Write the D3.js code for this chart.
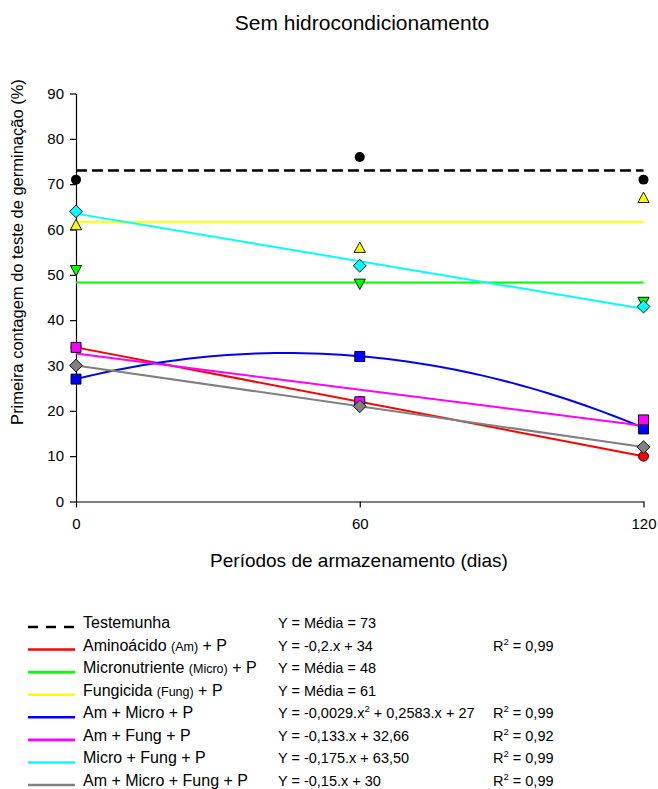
<!DOCTYPE html>
<html><head><meta charset="utf-8">
<script src="https://cdn.jsdelivr.net/npm/d3@7/dist/d3.min.js"></script>
<style>body{margin:0;background:#fff}svg{font-family:"Liberation Sans",Arial,sans-serif}</style>
</head><body><svg id="c" width="658" height="789"></svg>
<script>
const periods = [0, 60, 120];
const xTicks = [0, 60, 120];
const yTicks = [0, 10, 20, 30, 40, 50, 60, 70, 80, 90];

const seriesNames = ["Testemunha", "Aminoácido", "Micronutriente", "Fungicida", "Am + Micro + P", "Am + Fung + P", "Micro + Fung + P", "Am + Micro + Fung + P"];
const seriesColors = ["#000000", "#ff0000", "#00ff00", "#ffff00", "#0000ff", "#ff00ff", "#00ffff", "#808080"];
const seriesSymbols = ["circle", "circle", "tridown", "triup", "square", "square", "diamond", "diamond"];

const testemunha = [71, 76, 71];
const aminoacido = [34, 22, 10];
const micronutriente = [51, 48, 44];
const fungicida = [61, 56, 67];
const amMicro = [27, 32, 16];
const amFung = [34, 22, 18];
const microFung = [64, 52, 43];
const amMicroFung = [30, 21, 12];
const seriesValues = [testemunha, aminoacido, micronutriente, fungicida, amMicro, amFung, microFung, amMicroFung];

// fitted model coefficients [c, b, a] for y = a.x^2 + b.x + c
const fitCoefs = [
  [73, 0, 0],
  [34, -0.2, 0],
  [48.3, 0, 0],
  [61.7, 0, 0],
  [27, 0.2583, -0.0029],
  [32.66, -0.133, 0],
  [63.5, -0.175, 0],
  [30, -0.15, 0]
];

const legendLabels = [
  ["Testemunha"],
  ["Aminoácido ", "(Am)", " + P"],
  ["Micronutriente ", "(Micro)", " + P"],
  ["Fungicida ", "(Fung)", " + P"],
  ["Am + Micro + P"],
  ["Am + Fung + P"],
  ["Micro + Fung + P"],
  ["Am + Micro + Fung + P"]
];
const equations = [
  "Y = Média = 73",
  "Y = -0,2.x + 34",
  "Y = Média = 48",
  "Y = Média = 61",
  "QUAD",
  "Y = -0,133.x + 32,66",
  "Y = -0,175.x + 63,50",
  "Y = -0,15.x + 30"
];
const r2Values = [null, "0,99", null, null, "0,99", "0,92", "0,99", "0,99"];

const svg = d3.select("#c");
const x = d3.scaleLinear().domain([0, 120]).range([76, 643.5]);
const y = d3.scaleLinear().domain([0, 90]).range([501.5, 93.5]);

// title
svg.append("text").attr("x", 362).attr("y", 30).attr("text-anchor", "middle")
  .attr("font-size", 21).text("Sem hidrocondicionamento");

// axes
const gx = svg.append("g").attr("transform", `translate(0,${y(0)})`)
  .call(d3.axisBottom(x).tickValues(xTicks).tickSize(6).tickPadding(11).tickSizeOuter(0));
const gy = svg.append("g").attr("transform", `translate(${x(0)},0)`)
  .call(d3.axisLeft(y).tickValues(yTicks).tickSize(6).tickPadding(6).tickSizeOuter(0));
[gx, gy].forEach(g => {
  g.select(".domain").attr("stroke", "#000").attr("stroke-width", 1.2);
  g.selectAll(".tick line").attr("stroke", "#000").attr("stroke-width", 1.2);
  g.selectAll(".tick text").attr("font-size", 15).attr("fill", "#000")
    .attr("font-family", '"Liberation Sans",Arial,sans-serif');
});

svg.append("text").attr("x", 359).attr("y", 567).attr("text-anchor", "middle")
  .attr("font-size", 19).text("Períodos de armazenamento (dias)");
svg.append("text").attr("transform", "translate(23,252) rotate(-90)").attr("text-anchor", "middle")
  .attr("font-size", 16.5).text("Primeira contagem do teste de germinação (%)");

// fitted lines
const xs = d3.range(0, 121, 2);
const lineGen = d3.line().x(d => x(d[0])).y(d => y(d[1])).curve(d3.curveLinear);
function symbolPath(kind, s) {
  if (kind === "circle") return d3.symbol(d3.symbolCircle, s * s * 0.78)();
  if (kind === "square") return d3.symbol(d3.symbolSquare, s * s)();
  if (kind === "diamond") { const h = s * 0.64; return `M0,${-h}L${h},0L0,${h}L${-h},0Z`; }
  if (kind === "triup") { const h = s * 0.56; return `M0,${-h}L${h},${h * 0.85}L${-h},${h * 0.85}Z`; }
  if (kind === "tridown") { const h = s * 0.56; return `M0,${h}L${h},${-h * 0.85}L${-h},${-h * 0.85}Z`; }
}
seriesValues.forEach((vals, i) => {
  const [c, b, a] = fitCoefs[i];
  const pts = (a === 0 ? [0, 120] : xs).map(t => [t, a * t * t + b * t + c]);
  svg.append("path").attr("d", lineGen(pts)).attr("fill", "none")
    .attr("stroke", seriesColors[i]).attr("stroke-width", i === 0 ? 2.4 : 2)
    .attr("stroke-dasharray", i === 0 ? "11,5" : null);
});
seriesValues.forEach((vals, i) => {
  svg.append("g").selectAll("path").data(vals).join("path")
    .attr("transform", (d, j) => `translate(${x(periods[j])},${y(d)})`)
    .attr("d", symbolPath(seriesSymbols[i], 10))
    .attr("fill", seriesColors[i])
    .attr("stroke", "#000").attr("stroke-width", i === 0 ? 0 : 0.9);
});

// legend
const rowY = d3.scaleLinear().domain([0, 7]).range([628, 786]);
legendLabels.forEach((parts, i) => {
  const yy = rowY(i);
  svg.append("line").attr("x1", 28).attr("x2", 75).attr("y1", yy - 1).attr("y2", yy - 1)
    .attr("stroke", seriesColors[i]).attr("stroke-width", 2.6)
    .attr("stroke-dasharray", i === 0 ? "10,8" : null);
  const t = svg.append("text").attr("x", 83).attr("y", yy).attr("font-size", 16);
  parts.forEach((p, k) => {
    t.append("tspan").attr("font-size", k === 1 ? 12.5 : 16).text(p);
  });
  const e = svg.append("text").attr("x", 278).attr("y", yy).attr("font-size", 14.5);
  if (equations[i] === "QUAD") {
    e.append("tspan").text("Y = -0,0029.x");
    e.append("tspan").attr("font-size", 9.5).attr("dy", -6).text("2");
    e.append("tspan").attr("dy", 6).text(" + 0,2583.x + 27");
  } else {
    e.text(equations[i]);
  }
  if (r2Values[i]) {
    const r = svg.append("text").attr("x", 493).attr("y", yy).attr("font-size", 14.5);
    r.append("tspan").text("R");
    r.append("tspan").attr("font-size", 9.5).attr("dy", -6).text("2");
    r.append("tspan").attr("dy", 6).text(" = " + r2Values[i]);
  }
});
</script></body></html>
